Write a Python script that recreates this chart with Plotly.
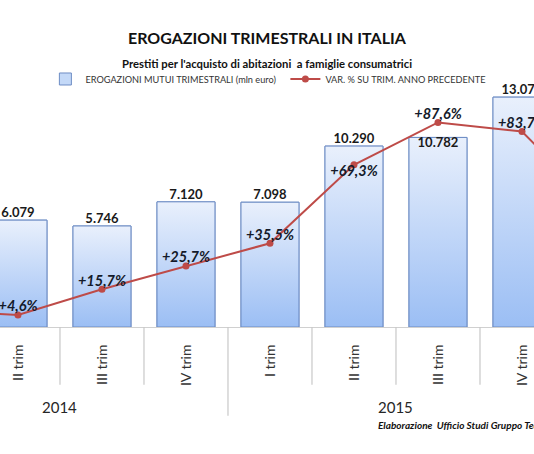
import plotly.graph_objects as go

# quarterly data (the chart window shows II trim 2014 .. IV trim 2015)
anni = ["2014", "2014", "2014", "2014", "2015", "2015", "2015", "2015", "2016"]
trimestri = ["I trim", "II trim", "III trim", "IV trim",
             "I trim", "II trim", "III trim", "IV trim", "I trim"]
erogazioni = [5238, 6079, 5746, 7120, 7098, 10290, 10782, 13075, 10435]
var_pct = [6.5, 4.6, 15.7, 25.7, 35.5, 69.3, 87.6, 83.7, 47.0]

FONT = "Lato"
idx = list(range(len(erogazioni)))
w = 0.69


def fmt_val(v):
    return f"{v:,}".replace(",", ".")


def fmt_pct(p):
    return ("+" if p >= 0 else "") + f"{p:.1f}".replace(".", ",") + "%"


fig = go.Figure()

# base bars (also give the legend entry)
fig.add_trace(go.Bar(
    x=idx, y=erogazioni, width=w,
    name="EROGAZIONI MUTUI TRIMESTRALI (mln euro)",
    marker=dict(color="#c4d9f8", line=dict(color="#6d8cc4", width=1)),
    hoverinfo="skip", yaxis="y",
))

# gradient fill per bar, light at top, blue at bottom
for i, v in zip(idx, erogazioni):
    fig.add_trace(go.Scatter(
        x=[i - w / 2, i + w / 2, i + w / 2, i - w / 2, i - w / 2],
        y=[0, 0, v, v, 0],
        mode="lines", fill="toself",
        fillgradient=dict(type="vertical",
                          colorscale=[[0, "#9bbef4"], [1, "#e9f0fc"]],
                          start=0, stop=v),
        line=dict(color="#6d8cc4", width=1),
        showlegend=False, hoverinfo="skip", yaxis="y",
    ))

# bar value labels
pos_val = ["top center"] * len(erogazioni)
pos_val[6] = "bottom center"
fig.add_trace(go.Scatter(
    x=idx, y=erogazioni, mode="text",
    text=[fmt_val(v) for v in erogazioni],
    textposition=pos_val,
    textfont=dict(family=FONT, size=13, color="#1a1a1a", weight="bold"),
    showlegend=False, hoverinfo="skip", yaxis="y",
))

# variation line
fig.add_trace(go.Scatter(
    x=idx, y=var_pct, mode="lines+markers",
    name="VAR. % SU TRIM. ANNO PRECEDENTE",
    line=dict(color="#be4b48", width=2),
    marker=dict(color="#be4b48", size=7),
    hoverinfo="skip", yaxis="y2",
))

pos_pct = ["top center"] * len(var_pct)
pos_pct[5] = "bottom center"
fig.add_trace(go.Scatter(
    x=idx, y=var_pct, mode="text",
    text=[fmt_pct(p) for p in var_pct],
    textposition=pos_pct,
    textfont=dict(family=FONT, size=14.5, color="#141a2a",
                  weight="bold", style="italic"),
    showlegend=False, hoverinfo="skip", yaxis="y2",
))

# category separators and year labels
shapes = []
for b in range(len(idx) - 1):
    new_year = anni[b] != anni[b + 1]
    shapes.append(dict(
        type="line", xref="x", yref="paper",
        x0=b + 0.5, x1=b + 0.5, y0=0, y1=-0.345 if new_year else -0.225,
        line=dict(color="#c8c8c8", width=1.2),
    ))

annotations = []
for anno in sorted(set(anni)):
    pos = [i for i in idx if anni[i] == anno]
    annotations.append(dict(
        x=sum(pos) / len(pos), y=-0.311, xref="x", yref="paper",
        yanchor="middle", text=anno, showarrow=False,
        font=dict(family=FONT, size=15, color="#262626"),
    ))

annotations += [
    dict(x=0.5, y=1.0, xref="paper", yref="paper", yanchor="middle",
         yshift=-37 + 70, text="<b>EROGAZIONI TRIMESTRALI IN ITALIA</b>",
         showarrow=False, font=dict(family=FONT, size=16, color="#111111")),
    dict(x=0.5, y=1.0, xref="paper", yref="paper", yanchor="middle",
         yshift=-63 + 70,
         text="<b>Prestiti per l'acquisto di abitazioni  a famiglie consumatrici</b>",
         showarrow=False, font=dict(family=FONT, size=11.3, color="#111111")),
    dict(x=376 / 534, y=-0.38, xref="paper", yref="paper", xanchor="left",
         yanchor="middle",
         text="<b><i>Elaborazione  Ufficio Studi Gruppo Tecnocasa</i></b>",
         showarrow=False, font=dict(family=FONT, size=10, color="#111111")),
]

fig.update_layout(
    width=534, height=454,
    margin=dict(l=0, r=0, t=70, b=127),
    paper_bgcolor="white", plot_bgcolor="white",
    showlegend=True,
    legend=dict(orientation="h", x=0.085, xanchor="left", y=0.965,
                yanchor="middle", font=dict(family=FONT, size=9.2, color="#333333"),
                bgcolor="rgba(0,0,0,0)", itemwidth=30, entrywidth=195),
    xaxis=dict(range=[0.786, 7.143], tickvals=idx, ticktext=trimestri,
               tickangle=-90, ticks="", ticklabelstandoff=11,
               tickfont=dict(family=FONT, size=14, color="#333333"),
               showline=True, linecolor="#d0d0d0", showgrid=False,
               zeroline=False, fixedrange=True),
    yaxis=dict(range=[0, 14619], visible=False, showgrid=False),
    yaxis2=dict(range=[-0.6, 110.2], overlaying="y", visible=False,
                showgrid=False),
    shapes=shapes, annotations=annotations,
)

fig.write_html("out.html", config={"displayModeBar": False},
               post_script="document.body.style.margin='0';")
